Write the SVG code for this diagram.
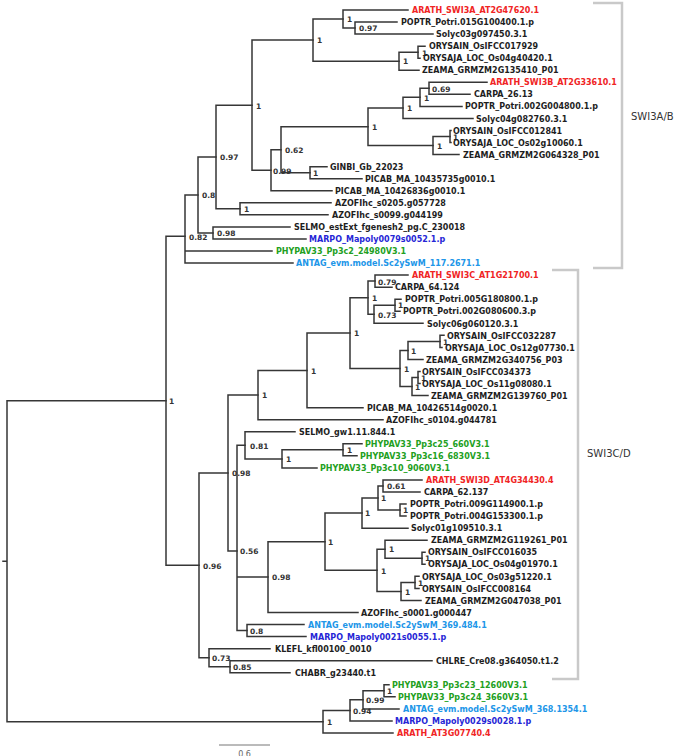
<svg xmlns="http://www.w3.org/2000/svg" width="676" height="756" viewBox="0 0 676 756">
<style>
.br{fill:none;stroke:#363636;stroke-width:1.5;stroke-linecap:square}
text{font-family:"DejaVu Sans",Verdana,sans-serif}
.lf{font-weight:bold;font-size:8px;fill:#1e1e1e}
.red{fill:#f02424}
.blu{fill:#2626d6}
.grn{fill:#22a022}
.lbl{fill:#2196e8}
.sp{font-weight:bold;font-size:7.5px;fill:#333}
.clade{fill:none;stroke:#c9c9c9;stroke-width:2.5}
.ct{font-size:10px;fill:#333}
</style>
<rect width="676" height="756" fill="#fff"/>
<g id="connectors" class="br">
<path d="M397,22.05H355V34.1H433"/>
<path d="M408,10H343V28.08H355"/>
<path d="M425,46.15H418V58.2H420"/>
<path d="M418,52.18H399V70.25H419"/>
<path d="M343,19.04H313V61.2H399"/>
<path d="M487,82.3H429V94.35H470"/>
<path d="M429,88.3H420V106.4H462"/>
<path d="M420,97.35H403V118.45H473"/>
<path d="M451,130.5H450V142.55H451"/>
<path d="M450,136.5H433V154.6H459"/>
<path d="M403,107.9H368V145.55H433"/>
<path d="M327,166.65H310V178.7H362"/>
<path d="M368,126.7H281V172.7H310"/>
<path d="M281,149.7H271V190.75H332"/>
<path d="M313,40.1H252V170.2H271"/>
<path d="M331,202.8H240V214.85H328"/>
<path d="M252,105.15H216V208.8H240"/>
<path d="M290,226.9H213V238.95H306"/>
<path d="M216,157H198V232.9H213"/>
<path d="M198,195H185V263.05H293M185,251H272"/>
<path d="M185,236.35H166V565.35H199"/>
<path d="M408,275.1H375V287.15H392"/>
<path d="M401,299.2H395V311.25H400"/>
<path d="M395,305.2H374V323.3H423"/>
<path d="M375,281.1H368V314.25H374"/>
<path d="M444,335.35H440V347.4H442"/>
<path d="M440,341.4H408V359.45H423"/>
<path d="M420,371.5H418V383.55H420"/>
<path d="M418,377.5H412V395.6H428"/>
<path d="M408,350.4H400V386.55H412"/>
<path d="M368,297.7H350V368.5H400"/>
<path d="M350,333.1H307V407.65H363"/>
<path d="M307,370.4H258V419.7H383"/>
<path d="M362,443.8H343V455.85H357"/>
<path d="M343,449.8H282V467.9H317"/>
<path d="M295,431.75H245V458.9H282"/>
<path d="M422,479.95H383V492H420"/>
<path d="M406,504.05H400V516.1H406"/>
<path d="M383,486H378V510.1H400"/>
<path d="M378,498H362V528.15H408"/>
<path d="M425,552.25H422V564.3H425"/>
<path d="M427,540.2H385V558.3H422"/>
<path d="M419,576.35H415V588.4H419"/>
<path d="M415,582.4H401V600.45H421"/>
<path d="M385,549.25H377V591.4H401"/>
<path d="M362,513.1H325V570.3H377"/>
<path d="M325,541.7H268V612.5H358"/>
<path d="M304,624.55H247V636.6H306"/>
<path d="M245,445.3H237V630.6H247M237,577.1H268"/>
<path d="M258,395.05H228V551H237"/>
<path d="M432,660.7H230V672.75H290"/>
<path d="M270,648.65H209V666.7H230"/>
<path d="M228,473H199V657.7H209"/>
<path d="M389,684.8H384V696.85H395"/>
<path d="M384,690.8H363V708.9H399"/>
<path d="M363,699.85H350V720.95H392"/>
<path d="M350,710.4H323V733H393"/>
<path d="M166,400.85H7V721.7H323M3,561.3H7"/>
</g>
<g id="support" class="sp">
<text x="359" y="31">0.97</text>
<text x="347" y="22">1</text>
<text x="422" y="56">1</text>
<text x="403" y="64">1</text>
<text x="317" y="43">1</text>
<text x="432" y="91.5">0.69</text>
<text x="424" y="100.5">1</text>
<text x="407" y="111">1</text>
<text x="453" y="140">1</text>
<text x="437" y="149">1</text>
<text x="372" y="130">1</text>
<text x="313" y="176">1</text>
<text x="285" y="153">0.62</text>
<text x="273" y="174">0.99</text>
<text x="256" y="108.5">1</text>
<text x="244" y="212">1</text>
<text x="220" y="160">0.97</text>
<text x="217" y="236">0.98</text>
<text x="202" y="198">0.8</text>
<text x="189" y="239.5">0.82</text>
<text x="169" y="404">1</text>
<text x="378" y="284.5">0.79</text>
<text x="398" y="307.5">1</text>
<text x="378" y="317.5">0.73</text>
<text x="372" y="301">1</text>
<text x="443" y="344.5">1</text>
<text x="411" y="353.5">1</text>
<text x="421" y="380.5">1</text>
<text x="415" y="389.5">1</text>
<text x="404" y="371.5">1</text>
<text x="354" y="336">1</text>
<text x="311" y="373.5">1</text>
<text x="262" y="398">1</text>
<text x="347" y="453">1</text>
<text x="286" y="462">1</text>
<text x="250" y="448.5">0.81</text>
<text x="387" y="489">0.61</text>
<text x="403" y="513">1</text>
<text x="381" y="501">1</text>
<text x="365" y="516">1</text>
<text x="425" y="561">1</text>
<text x="389" y="552">1</text>
<text x="418" y="585.5">1</text>
<text x="405" y="594.5">1</text>
<text x="381" y="573.5">1</text>
<text x="328" y="545">1</text>
<text x="272" y="580">0.98</text>
<text x="250" y="633.5">0.8</text>
<text x="240" y="554">0.56</text>
<text x="232" y="476">0.98</text>
<text x="233" y="670">0.85</text>
<text x="212" y="661">0.73</text>
<text x="203" y="568.5">0.96</text>
<text x="387" y="694">1</text>
<text x="366" y="703">0.99</text>
<text x="353" y="713.5">0.94</text>
<text x="327" y="725">1</text>
</g>
<g id="leaves" class="lf">
<g id="leaf1"><text class="red" x="412" y="13">ARATH_SWI3A_AT2G47620.1</text></g>
<g id="leaf2"><text x="401" y="25">POPTR_Potri.015G100400.1.p</text></g>
<g id="leaf3"><text x="436" y="37">Solyc03g097450.3.1</text></g>
<g id="leaf4"><text x="429" y="49">ORYSAIN_OsIFCC017929</text></g>
<g id="leaf5"><text x="423" y="61">ORYSAJA_LOC_Os04g40420.1</text></g>
<g id="leaf6"><text x="422" y="73">ZEAMA_GRMZM2G135410_P01</text></g>
<g id="leaf7"><text class="red" x="490" y="85">ARATH_SWI3B_AT2G33610.1</text></g>
<g id="leaf8"><text x="474" y="97">CARPA_26.13</text></g>
<g id="leaf9"><text x="465" y="109">POPTR_Potri.002G004800.1.p</text></g>
<g id="leaf10"><text x="476" y="121.5">Solyc04g082760.3.1</text></g>
<g id="leaf11"><text x="453" y="133.5">ORYSAIN_OsIFCC012841</text></g>
<g id="leaf12"><text x="453" y="145.5">ORYSAJA_LOC_Os02g10060.1</text></g>
<g id="leaf13"><text x="463" y="157.5">ZEAMA_GRMZM2G064328_P01</text></g>
<g id="leaf14"><text x="330" y="169.5">GINBI_Gb_22023</text></g>
<g id="leaf15"><text x="365" y="181.5">PICAB_MA_10435735g0010.1</text></g>
<g id="leaf16"><text x="335" y="193.5">PICAB_MA_10426836g0010.1</text></g>
<g id="leaf17"><text x="335" y="206">AZOFIhc_s0205.g057728</text></g>
<g id="leaf18"><text x="332" y="218">AZOFIhc_s0099.g044199</text></g>
<g id="leaf19"><text x="294" y="230">SELMO_estExt_fgenesh2_pg.C_230018</text></g>
<g id="leaf20"><text class="blu" x="309" y="242">MARPO_Mapoly0079s0052.1.p</text></g>
<g id="leaf21"><text class="grn" x="276" y="254">PHYPAV33_Pp3c2_24980V3.1</text></g>
<g id="leaf22"><text class="lbl" x="296" y="266">ANTAG_evm.model.Sc2ySwM_117.2671.1</text></g>
<g id="leaf23"><text class="red" x="412" y="278">ARATH_SWI3C_AT1G21700.1</text></g>
<g id="leaf24"><text x="395" y="290">CARPA_64.124</text></g>
<g id="leaf25"><text x="405" y="302">POPTR_Potri.005G180800.1.p</text></g>
<g id="leaf26"><text x="403" y="314">POPTR_Potri.002G080600.3.p</text></g>
<g id="leaf27"><text x="427" y="326.5">Solyc06g060120.3.1</text></g>
<g id="leaf28"><text x="447" y="338.5">ORYSAIN_OsIFCC032287</text></g>
<g id="leaf29"><text x="445" y="350.5">ORYSAJA_LOC_Os12g07730.1</text></g>
<g id="leaf30"><text x="426" y="362.5">ZEAMA_GRMZM2G340756_P03</text></g>
<g id="leaf31"><text x="422" y="374.5">ORYSAIN_OsIFCC034373</text></g>
<g id="leaf32"><text x="422" y="386.5">ORYSAJA_LOC_Os11g08080.1</text></g>
<g id="leaf33"><text x="431" y="398.5">ZEAMA_GRMZM2G139760_P01</text></g>
<g id="leaf34"><text x="367" y="410.5">PICAB_MA_10426514g0020.1</text></g>
<g id="leaf35"><text x="386" y="422.5">AZOFIhc_s0104.g044781</text></g>
<g id="leaf36"><text x="299" y="434.5">SELMO_gw1.11.844.1</text></g>
<g id="leaf37"><text class="grn" x="365" y="447">PHYPAV33_Pp3c25_660V3.1</text></g>
<g id="leaf38"><text class="grn" x="360" y="459">PHYPAV33_Pp3c16_6830V3.1</text></g>
<g id="leaf39"><text class="grn" x="320" y="471">PHYPAV33_Pp3c10_9060V3.1</text></g>
<g id="leaf40"><text class="red" x="426" y="483">ARATH_SWI3D_AT4G34430.4</text></g>
<g id="leaf41"><text x="424" y="495">CARPA_62.137</text></g>
<g id="leaf42"><text x="410" y="507">POPTR_Potri.009G114900.1.p</text></g>
<g id="leaf43"><text x="410" y="519">POPTR_Potri.004G153300.1.p</text></g>
<g id="leaf44"><text x="411" y="531">Solyc01g109510.3.1</text></g>
<g id="leaf45"><text x="431" y="543">ZEAMA_GRMZM2G119261_P01</text></g>
<g id="leaf46"><text x="428" y="555">ORYSAIN_OsIFCC016035</text></g>
<g id="leaf47"><text x="428" y="567">ORYSAJA_LOC_Os04g01970.1</text></g>
<g id="leaf48"><text x="422" y="579.5">ORYSAJA_LOC_Os03g51220.1</text></g>
<g id="leaf49"><text x="422" y="591.5">ORYSAIN_OsIFCC008164</text></g>
<g id="leaf50"><text x="425" y="603.5">ZEAMA_GRMZM2G047038_P01</text></g>
<g id="leaf51"><text x="361" y="615.5">AZOFIhc_s0001.g000447</text></g>
<g id="leaf52"><text class="lbl" x="308" y="627.5">ANTAG_evm.model.Sc2ySwM_369.484.1</text></g>
<g id="leaf53"><text class="blu" x="310" y="639.5">MARPO_Mapoly0021s0055.1.p</text></g>
<g id="leaf54"><text x="275" y="651.5">KLEFL_kfl00100_0010</text></g>
<g id="leaf55"><text x="436" y="663.5">CHLRE_Cre08.g364050.t1.2</text></g>
<g id="leaf56"><text x="295" y="675.5">CHABR_g23440.t1</text></g>
<g id="leaf57"><text class="grn" x="392" y="688">PHYPAV33_Pp3c23_12600V3.1</text></g>
<g id="leaf58"><text class="grn" x="398" y="700">PHYPAV33_Pp3c24_3660V3.1</text></g>
<g id="leaf59"><text class="lbl" x="403" y="712">ANTAG_evm.model.Sc2ySwM_368.1354.1</text></g>
<g id="leaf60"><text class="blu" x="395" y="724">MARPO_Mapoly0029s0028.1.p</text></g>
<g id="leaf61"><text class="red" x="397" y="736">ARATH_AT3G07740.4</text></g>
</g>
<g id="clade-swi3ab">
<path class="clade" d="M593,3H622V268H593"/>
<text class="ct" x="631" y="120">SWI3A/B</text>
</g>
<g id="clade-swi3cd">
<path class="clade" d="M552,270H578V679H552"/>
<text class="ct" x="587" y="457">SWI3C/D</text>
</g>
<g id="scalebar">
<path d="M219,745H270" stroke="#777" stroke-width="1" fill="none"/>
<text x="244.5" y="757" text-anchor="middle" font-size="8" fill="#666">0.6</text>
</g>
</svg>
